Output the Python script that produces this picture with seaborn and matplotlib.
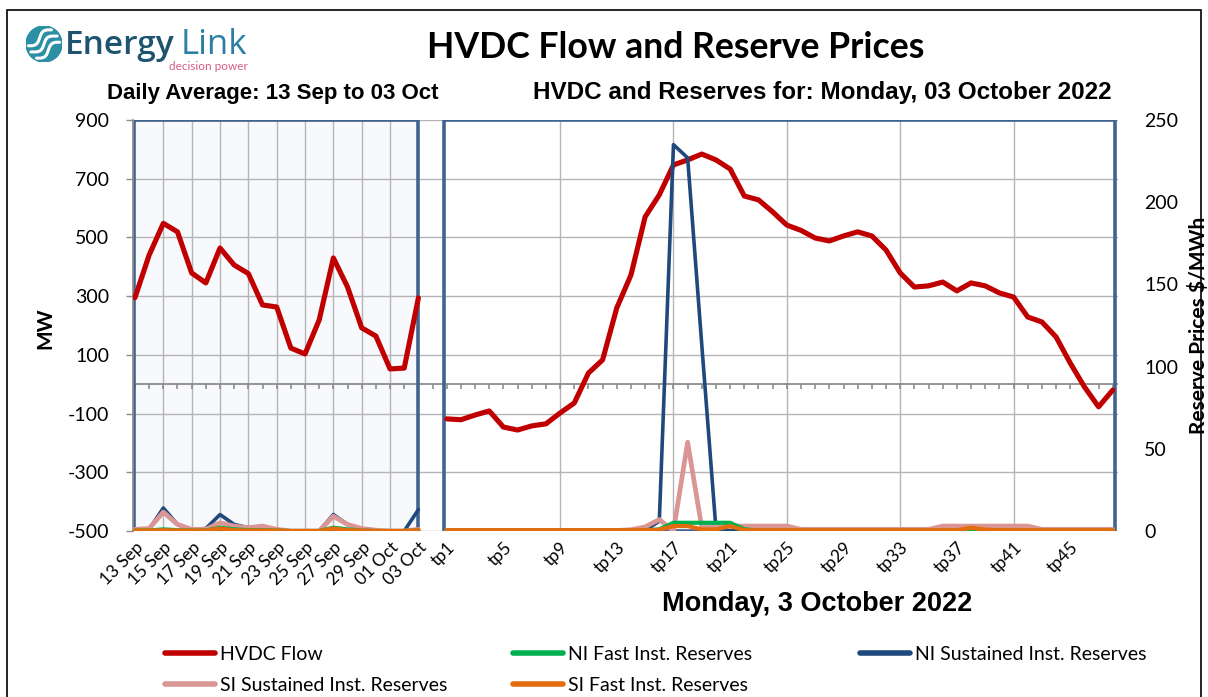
import numpy as np
import matplotlib
matplotlib.use("Agg")
import matplotlib.pyplot as plt
import seaborn as sns
from matplotlib.patches import Rectangle, Circle

# ---- data ----
days = ["13 Sep", "14 Sep", "15 Sep", "16 Sep", "17 Sep", "18 Sep", "19 Sep",
        "20 Sep", "21 Sep", "22 Sep", "23 Sep", "24 Sep", "25 Sep", "26 Sep",
        "27 Sep", "28 Sep", "29 Sep", "30 Sep", "01 Oct", "02 Oct", "03 Oct"]
tps = [f"tp{i}" for i in range(1, 49)]

# daily averages (MW and $/MWh)
day_hvdc = [295, 440, 548, 519, 379, 345, 464, 406, 377, 270, 263, 123, 103, 219,
            430, 331, 192, 164, 52, 55, 294]
day_ni_fast = [0.3, 0.3, 1, 0.5, 0.3, 0.3, 2, 1, 0.5, 0.5, 0.3, 0, 0, 0,
               2, 1, 0.3, 0, 0, 0, 0.3]
day_ni_sust = [0.5, 1, 14, 4, 1, 1.5, 10, 4, 2, 2.5, 0.5, 0, 0, 0,
               10, 4, 1, 0, 0, 0, 13]
day_si_sust = [1, 1.5, 11.5, 4, 1, 1, 5, 3, 2, 3, 1, 0, 0, 0,
               9, 4, 1.5, 0.5, 0, 0, 1]
day_si_fast = [0.3, 0.3, 0.5, 0.3, 0.3, 0.3, 1.5, 0.5, 0.3, 0.3, 0.3, 0, 0, 0,
               1.5, 0.5, 0.3, 0, 0, 0, 0.5]

# trading periods for Monday 3 October 2022
tp_hvdc = [-118, -121, -105, -91, -146, -156, -142, -135, -98, -64, 38, 83,
           260, 372, 570, 645, 747, 764, 784, 764, 733, 641, 628, 587,
           542, 524, 498, 488, 505, 519, 505, 457, 379, 331, 335, 348,
           318, 345, 335, 311, 297, 229, 212, 161, 72, -9, -77, -20]
tp_ni_fast = [0.3] * 15 + [1, 5, 5, 5, 5, 5, 1] + [0.3] * 26
tp_ni_sust = [0.3] * 15 + [6, 235, 227, 113, 1] + [0.3] * 28
tp_si_sust = ([0.3] * 13 + [0.8, 2.5, 7, 0, 54, 2] + [3] * 6 + [1] * 10
              + [3] * 7 + [1] * 6)
tp_si_fast = ([0.5] * 15 + [0.8, 3, 3, 1, 1, 3, 0.5] + [0.5] * 14
              + [0.5, 2, 0.8] + [0.5] * 9)

RED = "#c00000"
GREEN = "#00b050"
NAVY = "#1f497d"
PINK = "#d99694"
ORANGE = "#e46c0a"
FRAME = "#41648f"
GRID = "#b5b5b5"

sns.set_theme(style="white")
plt.rcParams["font.family"] = ["Lato", "DejaVu Sans"]
plt.rcParams["axes.unicode_minus"] = False
plt.rcParams["text.color"] = "black"
plt.rcParams["xtick.color"] = "black"
plt.rcParams["ytick.color"] = "black"

W, H = 1208, 697
fig = plt.figure(figsize=(W / 100, H / 100), dpi=100)
fig.patch.set_facecolor("white")

ax = fig.add_axes([133 / W, 1 - 531 / H, 985 / W, 411 / H])
ax2 = ax.twinx()

day_pos = np.arange(len(days))
tp_pos = np.arange(len(tps)) + len(days) + 1
all_pos = np.arange(len(days) + 1 + len(tps))

ax.set_xlim(-0.14, all_pos[-1] + 0.37)
ax.set_ylim(-500, 900)
ax2.set_ylim(0, 250)

# panel backgrounds and frames
ax.add_patch(Rectangle((day_pos[0] - 0.14, -500), day_pos[-1] - day_pos[0] + 0.14, 1400,
                       facecolor="#f7f9fc", edgecolor="none", zorder=0.2))
ax.add_patch(Rectangle((day_pos[0] - 0.1, -500), day_pos[-1] - day_pos[0] + 0.1, 1400,
                       fill=False, edgecolor=FRAME, lw=2.6, zorder=2.5))
ax.add_patch(Rectangle((tp_pos[0] - 0.2, -500), tp_pos[-1] - tp_pos[0] + 0.35, 1400,
                       fill=False, edgecolor=FRAME, lw=2.6, zorder=2.5))

# grid
ax.set_axisbelow(True)
ax.yaxis.grid(True, color=GRID, lw=1)
ax.xaxis.grid(False)
ax.vlines(day_pos[2:-1:2], -500, 900, color=GRID, lw=1, zorder=0.5)
ax.vlines(tp_pos[8::8], -500, 900, color=GRID, lw=1, zorder=0.5)

# zero line with category ticks
ax.axhline(0, color="#8c8c8c", lw=1.3, zorder=1.5)
ax.vlines(all_pos, -17, 0, color="#8c8c8c", lw=1.2, zorder=1.5)

# HVDC flow (MW axis)
sns.lineplot(x=day_pos, y=day_hvdc, ax=ax, color=RED, lw=3.7, zorder=4)
sns.lineplot(x=tp_pos, y=tp_hvdc, ax=ax, color=RED, lw=3.7, zorder=4)
h_hvdc = ax.get_lines()[-1]

# reserve prices ($/MWh axis)
handles = {}
for name, dvals, tvals, col, lw in [
        ("NI Sustained Inst. Reserves", day_ni_sust, tp_ni_sust, NAVY, 2.6),
        ("SI Sustained Inst. Reserves", day_si_sust, tp_si_sust, PINK, 3.4),
        ("NI Fast Inst. Reserves", day_ni_fast, tp_ni_fast, GREEN, 3.0),
        ("SI Fast Inst. Reserves", day_si_fast, tp_si_fast, ORANGE, 3.0)]:
    sns.lineplot(x=day_pos, y=dvals, ax=ax2, color=col, lw=lw)
    sns.lineplot(x=tp_pos, y=tvals, ax=ax2, color=col, lw=lw)
    handles[name] = ax2.get_lines()[-1]

# axes styling
for sp in ax.spines.values():
    sp.set_visible(False)
for sp in ax2.spines.values():
    sp.set_visible(False)
ax.spines["left"].set_visible(True)
ax.spines["left"].set_color("#8c8c8c")

ax.set_yticks(np.arange(-500, 901, 200))
ax.tick_params(axis="y", left=True, length=5, width=1, color="#8c8c8c",
               labelsize=14, pad=12)
ax2.set_yticks(np.arange(0, 251, 50))
ax2.tick_params(axis="y", right=False, length=0, labelsize=14, pad=19)

xt_pos = list(day_pos[::2]) + list(tp_pos[::4])
xt_lab = days[::2] + tps[::4]
ax.set_xticks(xt_pos)
ax.set_xticklabels(xt_lab, rotation=45, ha="right", rotation_mode="anchor")
ax.tick_params(axis="x", bottom=False, length=0, labelsize=12.5, pad=6)
ax.set_xlabel("")
ax.set_ylabel("")
ax2.set_ylabel("")

# texts
fig.text(676 / W, 1 - 48 / H, "HVDC Flow and Reserve Prices", ha="center", va="center",
         fontsize=25.7, fontweight="bold", family="Lato")
fig.text(273 / W, 1 - 93 / H, "Daily Average: 13 Sep to 03 Oct", ha="center", va="center",
         fontsize=16, fontweight="bold", family="Liberation Sans")
fig.text(822 / W, 1 - 93 / H, "HVDC and Reserves for: Monday, 03 October 2022",
         ha="center", va="center", fontsize=17.5, fontweight="bold", family="Liberation Sans")
fig.text(817 / W, 1 - 604 / H, "Monday, 3 October 2022", ha="center", va="center",
         fontsize=19.5, fontweight="bold", family="Liberation Sans")
fig.text(45 / W, 1 - 328 / H, "MW", rotation=90, ha="center", va="center",
         fontsize=15, fontweight="bold")
fig.text(1199 / W, 1 - 325 / H, "Reserve Prices $/MWh", rotation=90, ha="center",
         va="center", fontsize=15, fontweight="bold")

# legend in three columns
leg_kw = dict(loc="upper left", frameon=False, fontsize=14, handlelength=2.57,
              handletextpad=0.28, borderpad=0, borderaxespad=0, labelspacing=0.72)
for hs, x0 in [([h_hvdc, handles["SI Sustained Inst. Reserves"]], 165),
               ([handles["NI Fast Inst. Reserves"], handles["SI Fast Inst. Reserves"]], 513),
               ([handles["NI Sustained Inst. Reserves"]], 860)]:
    labels = ["HVDC Flow" if h is h_hvdc else
              [k for k, v in handles.items() if v is h][0] for h in hs]
    leg = fig.legend(hs, labels, bbox_to_anchor=(x0 / W, 1 - 646 / H), **leg_kw)
    for ln in leg.get_lines():
        ln.set_linewidth(4)

# logo
lax = fig.add_axes([26 / W, 1 - 62 / H, 36 / W, 36 / H])
lax.set_xlim(-1, 1)
lax.set_ylim(-1, 1)
lax.set_aspect("equal")
lax.axis("off")
lax.add_patch(Circle((0, 0), 1, color="#2b8fa5"))
t = np.linspace(-0.85, 0.85, 60)
ang = np.deg2rad(35)
for off in (-0.42, 0.0, 0.42):
    xs = t
    ys = off + 0.18 * np.sin(np.pi * t * 1.3)
    xr = xs * np.cos(ang) - ys * np.sin(ang)
    yr = xs * np.sin(ang) + ys * np.cos(ang)
    m = xr ** 2 + yr ** 2 < 0.8
    lax.plot(xr[m], yr[m], color="white", lw=2.2)
fig.text(65 / W, 1 - 45 / H, "Energy", ha="left", va="center", fontsize=24,
         color="#1d5470", family="Open Sans", fontweight="semibold")
fig.text(181 / W, 1 - 45 / H, "Link", ha="left", va="center", fontsize=25,
         color="#2a7fa5", family="Open Sans")
fig.text(248 / W, 1 - 67 / H, "decision power", ha="right", va="center", fontsize=8.5,
         color="#d45c85")

# outer border
fig.add_artist(Rectangle((7 / W, -0.01), 1194 / W, 1 - 10 / H + 0.01,
                         transform=fig.transFigure, fill=False, edgecolor="black", lw=1.2))

fig.savefig("out.png", dpi=100)
